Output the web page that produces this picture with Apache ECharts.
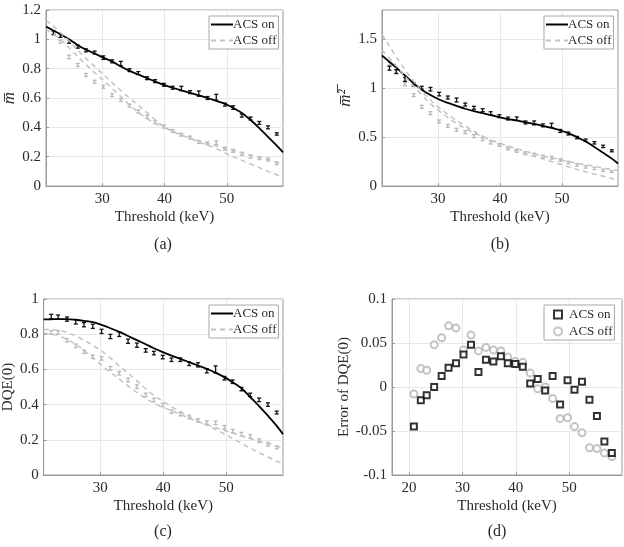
<!DOCTYPE html>
<html><head><meta charset="utf-8">
<script src="https://cdn.jsdelivr.net/npm/echarts@6/dist/echarts.min.js"></script>
<style>html,body{margin:0;padding:0;background:#fff}#c{width:624px;height:547px}</style>
</head><body><div id="c"></div>
<script>
// ---- thresholds (keV) ----
const measKeV  = [22.2, 23.3, 24.7, 26.1, 27.4, 28.8, 30.2, 31.6, 33.0, 34.4, 35.8, 37.2, 38.5, 39.9, 41.3, 42.7, 44.1, 45.5, 46.9, 48.3, 49.7, 51.0, 52.4, 53.8, 55.2, 56.6, 58.0];
const errKeV   = [20.9, 22.2, 23.3, 24.7, 26.1, 27.4, 28.8, 30.2, 31.6, 33.0, 34.4, 35.8, 37.2, 38.5, 39.9, 41.3, 42.7, 44.1, 45.5, 46.9, 48.3, 49.7, 51.0, 52.4, 53.8, 55.2, 56.6, 58.0];
const modelKeV = [21, 22.2, 23.3, 24.7, 26.1, 27.4, 28.8, 30.2, 31.6, 33.0, 34.4, 35.8, 37.2, 38.5, 39.9, 41.3, 42.7, 44.1, 45.5, 46.9, 48.3, 49.7, 51.0, 52.4, 53.8, 55.2, 56.6, 58.0, 59];
const altKeV   = [21, 23, 25, 27, 29, 31, 33, 35, 37, 39, 41, 43, 45, 47, 49, 51, 53, 55, 57, 59];

// ---- (a) mean m ----
const onA   = [1.045, 1.025, 0.985, 0.95, 0.925, 0.91, 0.875, 0.85, 0.835, 0.79, 0.77, 0.735, 0.715, 0.69, 0.67, 0.665, 0.64, 0.63, 0.60, 0.605, 0.555, 0.535, 0.48, 0.46, 0.43, 0.40, 0.355];
const eOnA  = [0.012, 0.012, 0.012, 0.01, 0.01, 0.01, 0.012, 0.01, 0.015, 0.01, 0.01, 0.01, 0.01, 0.01, 0.01, 0.015, 0.01, 0.018, 0.01, 0.02, 0.01, 0.012, 0.01, 0.01, 0.01, 0.01, 0.008];
const offA  = [1.04, 0.984, 0.88, 0.825, 0.757, 0.711, 0.677, 0.62, 0.586, 0.548, 0.508, 0.472, 0.435, 0.405, 0.375, 0.35, 0.33, 0.30, 0.29, 0.295, 0.255, 0.24, 0.22, 0.20, 0.19, 0.18, 0.155];
const eOffA = [0.01, 0.01, 0.012, 0.01, 0.01, 0.01, 0.01, 0.01, 0.01, 0.01, 0.01, 0.01, 0.01, 0.01, 0.01, 0.01, 0.01, 0.01, 0.01, 0.012, 0.01, 0.01, 0.01, 0.01, 0.01, 0.01, 0.008];
const modelOnA  = [1.088, 1.06, 1.035, 1.0, 0.96, 0.93, 0.903, 0.875, 0.848, 0.815, 0.785, 0.76, 0.735, 0.712, 0.69, 0.67, 0.652, 0.635, 0.618, 0.60, 0.58, 0.56, 0.533, 0.498, 0.45, 0.395, 0.335, 0.275, 0.23];
const modelOffA = [1.13, 1.09, 1.045, 0.99, 0.925, 0.87, 0.815, 0.76, 0.705, 0.65, 0.60, 0.55, 0.50, 0.452, 0.405, 0.372, 0.348, 0.325, 0.30, 0.278, 0.255, 0.225, 0.2, 0.175, 0.15, 0.125, 0.1, 0.077, 0.062];
const altOffA   = [1.07, 1.01, 0.93, 0.845, 0.765, 0.69, 0.61, 0.53, 0.465, 0.418, 0.38, 0.345, 0.315, 0.29, 0.265, 0.242, 0.22, 0.198, 0.175, 0.15];

// ---- (b) mean m^2 ----
const onB   = [1.205, 1.17, 1.09, 1.04, 1.005, 0.99, 0.94, 0.905, 0.88, 0.833, 0.80, 0.775, 0.745, 0.714, 0.69, 0.688, 0.65, 0.645, 0.62, 0.62, 0.563, 0.537, 0.495, 0.468, 0.442, 0.405, 0.36];
const eOnB  = [0.02, 0.02, 0.02, 0.018, 0.015, 0.018, 0.018, 0.015, 0.02, 0.015, 0.015, 0.015, 0.015, 0.015, 0.015, 0.018, 0.015, 0.02, 0.015, 0.022, 0.015, 0.015, 0.012, 0.012, 0.012, 0.012, 0.01];
const offB  = [1.25, 1.17, 1.04, 0.93, 0.81, 0.745, 0.66, 0.615, 0.575, 0.55, 0.51, 0.48, 0.445, 0.42, 0.385, 0.36, 0.335, 0.32, 0.30, 0.29, 0.265, 0.24, 0.215, 0.195, 0.18, 0.16, 0.148];
const eOffB = [0.015, 0.015, 0.015, 0.015, 0.015, 0.015, 0.015, 0.015, 0.015, 0.015, 0.015, 0.015, 0.015, 0.015, 0.015, 0.015, 0.015, 0.015, 0.015, 0.015, 0.012, 0.012, 0.012, 0.012, 0.012, 0.012, 0.01];
const modelOnB  = [1.335, 1.27, 1.21, 1.13, 1.05, 0.985, 0.93, 0.885, 0.85, 0.82, 0.79, 0.765, 0.745, 0.725, 0.705, 0.685, 0.67, 0.65, 0.635, 0.615, 0.595, 0.57, 0.54, 0.50, 0.455, 0.40, 0.34, 0.28, 0.23];
const modelOffB = [1.55, 1.43, 1.32, 1.19, 1.07, 0.97, 0.88, 0.80, 0.735, 0.67, 0.615, 0.56, 0.51, 0.465, 0.42, 0.385, 0.355, 0.33, 0.303, 0.278, 0.25, 0.222, 0.196, 0.17, 0.145, 0.122, 0.1, 0.077, 0.062];
const altOffB   = [1.39, 1.25, 1.10, 0.96, 0.83, 0.73, 0.64, 0.57, 0.51, 0.46, 0.415, 0.375, 0.34, 0.305, 0.28, 0.25, 0.225, 0.205, 0.18, 0.16];

// ---- (c) DQE(0) ----
const onC   = [0.90, 0.897, 0.886, 0.87, 0.854, 0.845, 0.816, 0.787, 0.80, 0.76, 0.738, 0.708, 0.693, 0.67, 0.655, 0.655, 0.632, 0.626, 0.592, 0.60, 0.55, 0.53, 0.488, 0.455, 0.427, 0.40, 0.355];
const eOnC  = [0.013, 0.012, 0.012, 0.012, 0.012, 0.012, 0.012, 0.012, 0.013, 0.012, 0.012, 0.01, 0.01, 0.01, 0.01, 0.01, 0.01, 0.012, 0.012, 0.02, 0.01, 0.01, 0.01, 0.01, 0.01, 0.01, 0.008];
const offC  = [0.81, 0.81, 0.765, 0.734, 0.70, 0.672, 0.663, 0.606, 0.578, 0.54, 0.502, 0.455, 0.426, 0.398, 0.36, 0.346, 0.33, 0.31, 0.298, 0.296, 0.271, 0.25, 0.232, 0.219, 0.195, 0.175, 0.157];
const eOffC = [0.01, 0.01, 0.01, 0.01, 0.01, 0.01, 0.01, 0.01, 0.01, 0.01, 0.01, 0.01, 0.01, 0.01, 0.01, 0.01, 0.01, 0.01, 0.01, 0.01, 0.01, 0.01, 0.01, 0.01, 0.01, 0.01, 0.008];
const modelOnC  = [0.884, 0.885, 0.886, 0.886, 0.882, 0.876, 0.868, 0.853, 0.834, 0.813, 0.79, 0.766, 0.743, 0.72, 0.698, 0.678, 0.66, 0.641, 0.622, 0.603, 0.581, 0.556, 0.527, 0.493, 0.443, 0.392, 0.337, 0.279, 0.232];
const modelOffC = [0.826, 0.826, 0.822, 0.81, 0.79, 0.766, 0.737, 0.705, 0.664, 0.62, 0.578, 0.535, 0.49, 0.452, 0.42, 0.388, 0.36, 0.333, 0.308, 0.283, 0.258, 0.233, 0.207, 0.18, 0.152, 0.126, 0.102, 0.078, 0.066];
const altOffC   = [0.806, 0.795, 0.765, 0.72, 0.66, 0.60, 0.545, 0.49, 0.44, 0.40, 0.37, 0.34, 0.31, 0.285, 0.26, 0.24, 0.215, 0.195, 0.175, 0.153];

// ---- (d) error of DQE(0) ----
const errOnD  = [-0.045, -0.015, -0.0095, 0.0, 0.0125, 0.022, 0.027, 0.037, 0.048, 0.017, 0.031, 0.029, 0.035, 0.027, 0.026, 0.023, 0.004, 0.009, -0.004, 0.0125, -0.02, 0.0076, -0.003, 0.006, -0.0145, -0.033, -0.062, -0.075];
const errOffD = [-0.008, 0.021, 0.019, 0.048, 0.056, 0.0695, 0.067, 0.042, 0.059, 0.041, 0.045, 0.042, 0.041, 0.034, 0.029, 0.028, 0.016, -0.002, 0.0, -0.013, -0.036, -0.035, -0.045, -0.052, -0.069, -0.070, -0.075, -0.079];

// ---- tick labels ----
const xTicksABC = [30, 40, 50];
const xTicksD   = [20, 30, 40, 50];
const yTicksA   = [0, 0.2, 0.4, 0.6, 0.8, 1, 1.2];
const yTicksB   = [0, 0.5, 1, 1.5];
const yTicksC   = [0, 0.2, 0.4, 0.6, 0.8, 1];
const yTicksD   = [-0.1, -0.05, 0, 0.05, 0.1];
const captions  = ['(a)', '(b)', '(c)', '(d)'];

const FONT = 'Liberation Serif';
const BLACK = '#000000', GRAY = '#c2c2c2', AX = '#9a9a9a', TXT = '#2a2a2a';

const zip = (xs, ys) => xs.map((x, i) => [x, ys[i]]);

function xAx(idx, min, max, ticks) {
  return {
    type: 'value', gridIndex: idx, min, max,
    name: 'Threshold (keV)', nameLocation: 'middle', nameGap: 24,
    nameTextStyle: { fontFamily: FONT, fontSize: 15, color: TXT },
    axisLine: { show: true, onZero: false, lineStyle: { color: AX } },
    axisTick: { show: true, inside: true, length: 3, customValues: ticks, lineStyle: { color: AX } },
    axisLabel: { customValues: ticks, fontFamily: FONT, fontSize: 15, color: TXT, margin: 6 },
    splitLine: { show: true, lineStyle: { color: '#e8e8e8' } }
  };
}
function yAx(idx, min, max, ticks, name, gap, nameStyle) {
  return {
    type: 'value', gridIndex: idx, min, max,
    name, nameLocation: 'middle', nameGap: gap,
    nameTextStyle: Object.assign({ fontFamily: FONT, fontSize: 15, color: TXT }, nameStyle || {}),
    axisLine: { show: true, onZero: false, lineStyle: { color: AX } },
    axisTick: { show: true, inside: true, length: 3, customValues: ticks, lineStyle: { color: AX } },
    axisLabel: { customValues: ticks, fontFamily: FONT, fontSize: 15, color: TXT, margin: 5 },
    splitLine: { show: true, lineStyle: { color: '#e8e8e8' } }
  };
}
function lineS(name, idx, xs, ys, color, dashed) {
  return {
    type: 'line', name, xAxisIndex: idx, yAxisIndex: idx, data: zip(xs, ys),
    smooth: 0.35, symbol: 'none', showSymbol: false, silent: true, animation: false,
    lineStyle: { color, width: dashed ? 1.5 : 1.8, type: dashed ? [5, 4] : 'solid' },
    itemStyle: { color }
  };
}
function errS(name, idx, xs, ys, es, color) {
  return {
    type: 'custom', name, xAxisIndex: idx, yAxisIndex: idx, clip: true, silent: true, animation: false,
    data: xs.map((x, i) => [x, ys[i] - es[i], ys[i] + es[i]]),
    encode: { x: 0, y: [1, 2] },
    renderItem(params, api) {
      const x = api.value(0);
      const lo = api.coord([x, api.value(1)]);
      const hi = api.coord([x, api.value(2)]);
      const w = 2;
      const st = { stroke: color, lineWidth: 1.3 };
      return { type: 'group', children: [
        { type: 'line', shape: { x1: lo[0], y1: lo[1], x2: hi[0], y2: hi[1] }, style: st },
        { type: 'line', shape: { x1: lo[0] - w, y1: lo[1], x2: lo[0] + w, y2: lo[1] }, style: st },
        { type: 'line', shape: { x1: hi[0] - w, y1: hi[1], x2: hi[0] + w, y2: hi[1] }, style: st }
      ]};
    }
  };
}
function lineLegend(left, top, names, fmt) {
  return {
    left, top, orient: 'vertical', data: names, selectedMode: false,
    backgroundColor: '#fff', borderColor: '#a8a8a8', borderWidth: 1,
    padding: [2, 2, 2, 1], itemGap: 3, itemWidth: 22, itemHeight: 12,
    itemStyle: { opacity: 0 },
    textStyle: { fontFamily: FONT, fontSize: 13, color: TXT, padding: [0, 0, 0, -5] },
    formatter: fmt || (n => n)
  };
}
function symLegend(left, top, names, fmt) {
  return {
    left, top, orient: 'vertical', data: names, selectedMode: false,
    backgroundColor: '#fff', borderColor: '#a8a8a8', borderWidth: 1,
    padding: [3, 2, 2, 9], itemGap: 4, itemWidth: 8, itemHeight: 8,
    textStyle: { fontFamily: FONT, fontSize: 13, color: TXT, padding: [0, 0, 0, 2] },
    formatter: fmt
  };
}

const grids = [
  { left: 43,  top: 10,  width: 240, height: 176 },
  { left: 382, top: 10,  width: 236, height: 176 },
  { left: 43,  top: 299, width: 240, height: 176 },
  { left: 392, top: 299, width: 230, height: 176 }
].map(g => Object.assign({ show: true, borderColor: AX, borderWidth: 1, backgroundColor: '#fff' }, g));

const series = [
  // (a)
  lineS('ACS on', 0, modelKeV, modelOnA, BLACK, false),
  lineS('ACS off', 0, modelKeV, modelOffA, GRAY, true),
  lineS('ACS off alt a', 0, altKeV, altOffA, GRAY, true),
  errS('ACS off meas a', 0, measKeV, offA, eOffA, '#b8b8b8'),
  errS('ACS on meas a', 0, measKeV, onA, eOnA, '#111'),
  // (b)
  lineS('ACS on b', 1, modelKeV, modelOnB, BLACK, false),
  lineS('ACS off b', 1, modelKeV, modelOffB, GRAY, true),
  lineS('ACS off alt b', 1, altKeV, altOffB, GRAY, true),
  errS('ACS off meas b', 1, measKeV, offB, eOffB, '#b8b8b8'),
  errS('ACS on meas b', 1, measKeV, onB, eOnB, '#111'),
  // (c)
  lineS('ACS on c', 2, modelKeV, modelOnC, BLACK, false),
  lineS('ACS off c', 2, modelKeV, modelOffC, GRAY, true),
  lineS('ACS off alt c', 2, altKeV, altOffC, GRAY, true),
  errS('ACS off meas c', 2, measKeV, offC, eOffC, '#b8b8b8'),
  errS('ACS on meas c', 2, measKeV, onC, eOnC, '#111'),
  // (d)
  { type: 'scatter', name: 'ACS off d', xAxisIndex: 3, yAxisIndex: 3, data: zip(errKeV, errOffD),
    symbol: 'emptyCircle', symbolSize: 7, silent: true, animation: false,
    itemStyle: { color: '#b5b5b5', borderColor: '#b5b5b5', borderWidth: 1.4 } },
  { type: 'scatter', name: 'ACS on d', xAxisIndex: 3, yAxisIndex: 3, data: zip(errKeV, errOnD),
    symbol: 'emptyRect', symbolSize: 6, silent: true, animation: false,
    itemStyle: { color: '#000', borderColor: '#000', borderWidth: 1.8 } }
];

const strip = n => n.replace(/ [a-d]$/, '');
const option = {
  animation: false,
  backgroundColor: '#fff',
  grid: grids,
  xAxis: [
    xAx(0, 21, 59, xTicksABC), xAx(1, 21, 59, xTicksABC), xAx(2, 21, 59, xTicksABC), xAx(3, 16.8, 59.9, xTicksD)
  ],
  yAxis: [
    yAx(0, 0, 1.2, yTicksA, 'm\u0305', 28, { fontStyle: 'italic', fontSize: 17 }),
    yAx(1, 0, 1.8, yTicksB, 'm\u0305\u00B2\u0305', 26, { fontStyle: 'italic', fontSize: 17 }),
    yAx(2, 0, 1, yTicksC, 'DQE(0)', 21),
    yAx(3, -0.1, 0.1, yTicksD, 'Error of DQE(0)', 34)
  ],
  legend: [
    lineLegend(209, 16, ['ACS on', 'ACS off']),
    lineLegend(544, 16, ['ACS on b', 'ACS off b'], strip),
    lineLegend(209, 305, ['ACS on c', 'ACS off c'], strip),
    symLegend(544, 305, ['ACS on d', 'ACS off d'], strip)
  ],
  graphic: [
    { type: 'text', x: 163, y: 245, style: { text: captions[0], font: '16px "Liberation Serif"', fill: TXT, textAlign: 'center', textVerticalAlign: 'middle' } },
    { type: 'text', x: 500, y: 245, style: { text: captions[1], font: '16px "Liberation Serif"', fill: TXT, textAlign: 'center', textVerticalAlign: 'middle' } },
    { type: 'text', x: 163, y: 532, style: { text: captions[2], font: '16px "Liberation Serif"', fill: TXT, textAlign: 'center', textVerticalAlign: 'middle' } },
    { type: 'text', x: 497, y: 532, style: { text: captions[3], font: '16px "Liberation Serif"', fill: TXT, textAlign: 'center', textVerticalAlign: 'middle' } }
  ],
  series
};
const chart = echarts.init(document.getElementById('c'), null, { renderer: 'canvas' });
chart.setOption(option);
</script>
</body></html>
